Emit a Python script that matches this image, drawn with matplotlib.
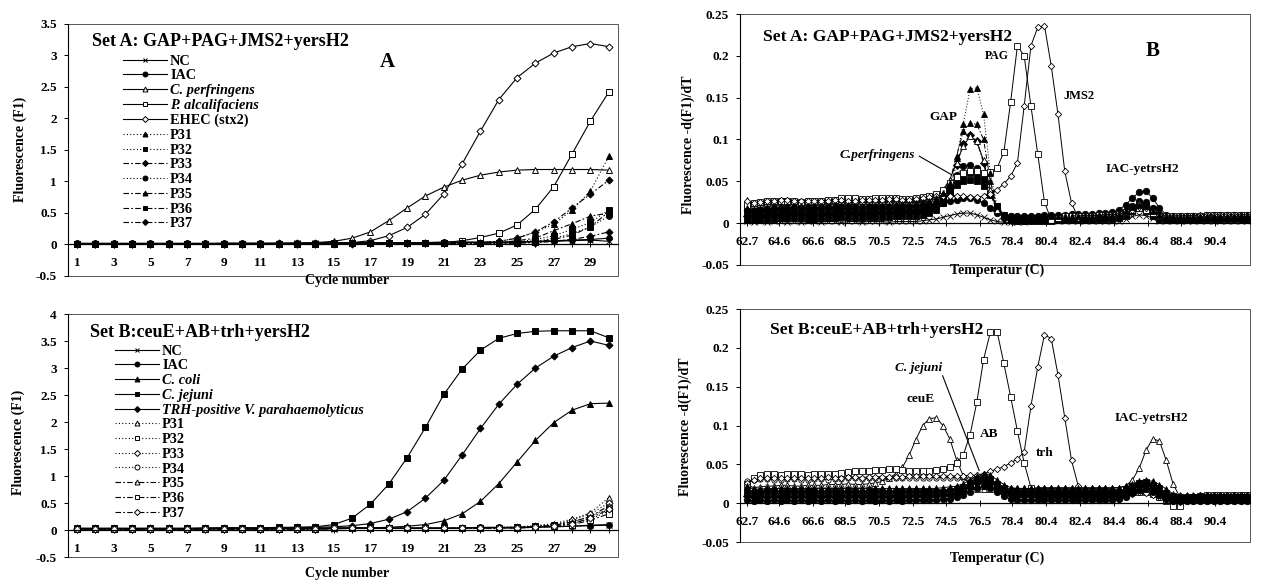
import numpy as np
import matplotlib
matplotlib.use("Agg")
import matplotlib.pyplot as plt
from matplotlib.patches import Rectangle
from matplotlib.ticker import FuncFormatter

plt.rcParams['font.family'] = ['Liberation Serif', 'DejaVu Serif']
plt.rcParams['font.weight'] = 'bold'

# ---------------- amplification data (cycle 1..30) ----------------
cycles = np.arange(1, 31)

nc_a = [0.01, 0.01, 0.01, 0.01, 0.01, 0.01, 0.01, 0.01, 0.01, 0.01,
        0.01, 0.01, 0.02, 0.02, 0.02, 0.02, 0.02, 0.02, 0.02, 0.02,
        0.02, 0.03, 0.03, 0.03, 0.04, 0.04, 0.05, 0.06, 0.07, 0.05]
iac_a = [0.02, 0.02, 0.02, 0.02, 0.02, 0.02, 0.02, 0.02, 0.02, 0.02,
         0.02, 0.02, 0.02, 0.02, 0.03, 0.03, 0.03, 0.03, 0.03, 0.03,
         0.04, 0.04, 0.04, 0.04, 0.04, 0.05, 0.06, 0.07, 0.08, 0.10]
cperf_a = [0.01, 0.01, 0.01, 0.01, 0.01, 0.01, 0.01, 0.01, 0.02, 0.02,
           0.02, 0.02, 0.02, 0.03, 0.05, 0.10, 0.20, 0.38, 0.58, 0.77,
           0.91, 1.02, 1.10, 1.15, 1.18, 1.19, 1.19, 1.19, 1.19, 1.18]
palc_a = [0.01, 0.01, 0.01, 0.01, 0.01, 0.01, 0.01, 0.01, 0.01, 0.01,
          0.01, 0.01, 0.01, 0.01, 0.02, 0.02, 0.02, 0.02, 0.02, 0.02,
          0.03, 0.06, 0.11, 0.18, 0.31, 0.56, 0.92, 1.44, 1.96, 2.42]
ehec_a = [0.01, 0.01, 0.01, 0.01, 0.01, 0.01, 0.01, 0.01, 0.01, 0.01,
          0.01, 0.02, 0.02, 0.02, 0.02, 0.03, 0.06, 0.14, 0.27, 0.48,
          0.80, 1.28, 1.80, 2.30, 2.65, 2.88, 3.04, 3.14, 3.19, 3.14]
p31_a = [0.01, 0.01, 0.01, 0.01, 0.01, 0.01, 0.01, 0.01, 0.01, 0.01,
         0.01, 0.01, 0.01, 0.02, 0.02, 0.02, 0.02, 0.02, 0.02, 0.02,
         0.02, 0.02, 0.03, 0.05, 0.10, 0.20, 0.32, 0.55, 0.85, 1.40]
p32_a = [0.01, 0.01, 0.01, 0.01, 0.01, 0.01, 0.01, 0.01, 0.01, 0.01,
         0.01, 0.01, 0.01, 0.01, 0.02, 0.02, 0.02, 0.02, 0.02, 0.02,
         0.02, 0.02, 0.02, 0.03, 0.04, 0.08, 0.14, 0.24, 0.35, 0.55]
p33_a = [0.01, 0.01, 0.01, 0.01, 0.01, 0.01, 0.01, 0.01, 0.01, 0.01,
         0.01, 0.01, 0.01, 0.01, 0.02, 0.02, 0.02, 0.02, 0.02, 0.02,
         0.02, 0.02, 0.03, 0.05, 0.10, 0.20, 0.36, 0.58, 0.80, 1.02]
p34_a = [0.01, 0.01, 0.01, 0.01, 0.01, 0.01, 0.01, 0.01, 0.01, 0.01,
         0.01, 0.01, 0.01, 0.01, 0.01, 0.02, 0.02, 0.02, 0.02, 0.02,
         0.02, 0.02, 0.02, 0.02, 0.03, 0.05, 0.10, 0.17, 0.28, 0.45]
p35_a = [0.01, 0.01, 0.01, 0.01, 0.01, 0.01, 0.01, 0.01, 0.01, 0.01,
         0.01, 0.01, 0.01, 0.01, 0.02, 0.02, 0.02, 0.02, 0.02, 0.02,
         0.02, 0.02, 0.02, 0.03, 0.06, 0.10, 0.22, 0.33, 0.45, 0.50]
p36_a = [0.01, 0.01, 0.01, 0.01, 0.01, 0.01, 0.01, 0.01, 0.01, 0.01,
         0.01, 0.01, 0.01, 0.01, 0.01, 0.02, 0.02, 0.02, 0.02, 0.02,
         0.02, 0.02, 0.02, 0.02, 0.03, 0.04, 0.08, 0.15, 0.28, 0.52]
p37_a = [0.01, 0.01, 0.01, 0.01, 0.01, 0.01, 0.01, 0.01, 0.01, 0.01,
         0.01, 0.01, 0.01, 0.01, 0.01, 0.01, 0.02, 0.02, 0.02, 0.02,
         0.02, 0.02, 0.02, 0.02, 0.02, 0.03, 0.05, 0.08, 0.13, 0.20]

nc_b = [0.02, 0.02, 0.02, 0.02, 0.02, 0.02, 0.02, 0.02, 0.02, 0.02,
        0.02, 0.02, 0.02, 0.02, 0.02, 0.03, 0.03, 0.03, 0.03, 0.03,
        0.03, 0.03, 0.04, 0.04, 0.04, 0.05, 0.06, 0.07, 0.09, 0.10]
iac_b = [0.03, 0.03, 0.03, 0.03, 0.03, 0.03, 0.03, 0.03, 0.03, 0.03,
         0.03, 0.03, 0.03, 0.04, 0.04, 0.04, 0.04, 0.04, 0.04, 0.04,
         0.04, 0.04, 0.05, 0.05, 0.05, 0.06, 0.06, 0.07, 0.08, 0.09]
ccoli_b = [0.02, 0.02, 0.02, 0.02, 0.02, 0.02, 0.02, 0.02, 0.03, 0.03,
           0.03, 0.03, 0.03, 0.03, 0.03, 0.04, 0.04, 0.05, 0.07, 0.10,
           0.17, 0.30, 0.53, 0.86, 1.26, 1.66, 1.99, 2.22, 2.34, 2.35]
cjej_b = [0.03, 0.03, 0.03, 0.03, 0.03, 0.03, 0.03, 0.04, 0.04, 0.04,
          0.04, 0.05, 0.05, 0.06, 0.10, 0.22, 0.48, 0.85, 1.34, 1.90,
          2.51, 2.98, 3.33, 3.55, 3.64, 3.68, 3.69, 3.69, 3.69, 3.56]
trh_b = [0.03, 0.03, 0.03, 0.03, 0.03, 0.03, 0.03, 0.03, 0.04, 0.04,
         0.04, 0.04, 0.05, 0.05, 0.06, 0.08, 0.12, 0.20, 0.34, 0.59,
         0.92, 1.39, 1.88, 2.33, 2.70, 3.00, 3.22, 3.38, 3.50, 3.42]
p31_b = [0.02, 0.02, 0.02, 0.02, 0.02, 0.02, 0.02, 0.02, 0.02, 0.02,
         0.02, 0.02, 0.02, 0.02, 0.03, 0.03, 0.03, 0.03, 0.03, 0.03,
         0.03, 0.04, 0.04, 0.05, 0.06, 0.08, 0.12, 0.20, 0.32, 0.60]
p32_b = [0.02, 0.02, 0.02, 0.02, 0.02, 0.02, 0.02, 0.02, 0.02, 0.02,
         0.02, 0.02, 0.02, 0.02, 0.03, 0.03, 0.03, 0.03, 0.03, 0.03,
         0.03, 0.03, 0.04, 0.04, 0.05, 0.07, 0.10, 0.15, 0.25, 0.40]
p33_b = [0.02, 0.02, 0.02, 0.02, 0.02, 0.02, 0.02, 0.02, 0.02, 0.02,
         0.02, 0.02, 0.02, 0.02, 0.03, 0.03, 0.03, 0.03, 0.03, 0.03,
         0.03, 0.03, 0.04, 0.04, 0.05, 0.07, 0.10, 0.18, 0.30, 0.50]
p34_b = [0.02, 0.02, 0.02, 0.02, 0.02, 0.02, 0.02, 0.02, 0.02, 0.02,
         0.02, 0.02, 0.02, 0.02, 0.03, 0.03, 0.03, 0.03, 0.03, 0.03,
         0.03, 0.03, 0.03, 0.04, 0.04, 0.05, 0.07, 0.12, 0.20, 0.35]
p35_b = [0.02, 0.02, 0.02, 0.02, 0.02, 0.02, 0.02, 0.02, 0.02, 0.02,
         0.02, 0.02, 0.02, 0.02, 0.03, 0.03, 0.03, 0.03, 0.03, 0.03,
         0.03, 0.03, 0.04, 0.04, 0.05, 0.06, 0.09, 0.15, 0.25, 0.45]
p36_b = [0.02, 0.02, 0.02, 0.02, 0.02, 0.02, 0.02, 0.02, 0.02, 0.02,
         0.02, 0.02, 0.02, 0.02, 0.03, 0.03, 0.03, 0.03, 0.03, 0.03,
         0.03, 0.03, 0.03, 0.04, 0.04, 0.05, 0.07, 0.10, 0.18, 0.30]
p37_b = [0.02, 0.02, 0.02, 0.02, 0.02, 0.02, 0.02, 0.02, 0.02, 0.02,
         0.02, 0.02, 0.02, 0.02, 0.03, 0.03, 0.03, 0.03, 0.03, 0.03,
         0.03, 0.03, 0.04, 0.04, 0.04, 0.06, 0.08, 0.12, 0.22, 0.38]

# ---------------- melting curve data ----------------
temps = np.round(62.7 + 0.4 * np.arange(75), 1)
temp_ticks = [62.7, 64.6, 66.6, 68.5, 70.5, 72.5, 74.5, 76.5, 78.4, 80.4,
              82.4, 84.4, 86.4, 88.4, 90.4]

# Set A
jms2_m = [0.026, 0.024, 0.025, 0.026, 0.027, 0.028, 0.028, 0.027, 0.027, 0.026,
          0.026, 0.027, 0.027, 0.028, 0.028, 0.027, 0.027, 0.028, 0.028, 0.028,
          0.028, 0.029, 0.029, 0.028, 0.028, 0.029, 0.030, 0.031, 0.032, 0.033,
          0.033, 0.033, 0.032, 0.031, 0.031, 0.032, 0.035, 0.040, 0.047, 0.056,
          0.072, 0.140, 0.212, 0.234, 0.236, 0.188, 0.130, 0.062, 0.024, 0.006,
          0.008, 0.009, 0.009, 0.010, 0.010, 0.011, 0.013, 0.016, 0.019, 0.018,
          0.014, 0.010, 0.008, 0.008, 0.009, 0.009, 0.009, 0.010, 0.010, 0.010,
          0.010, 0.010, 0.010, 0.010, 0.010]
pag_m = [0.022, 0.024, 0.025, 0.026, 0.027, 0.027, 0.026, 0.026, 0.025, 0.026,
         0.027, 0.027, 0.028, 0.028, 0.030, 0.030, 0.030, 0.029, 0.029, 0.030,
         0.030, 0.030, 0.030, 0.029, 0.029, 0.030, 0.031, 0.033, 0.035, 0.040,
         0.048, 0.055, 0.060, 0.062, 0.062, 0.060, 0.061, 0.066, 0.085, 0.145,
         0.212, 0.200, 0.140, 0.083, 0.025, 0.004, 0.006, 0.008, 0.009, 0.009,
         0.009, 0.009, 0.010, 0.010, 0.010, 0.011, 0.013, 0.016, 0.018, 0.016,
         0.012, 0.009, 0.008, 0.008, 0.008, 0.009, 0.009, 0.009, 0.010, 0.010,
         0.010, 0.010, 0.010, 0.010, 0.010]
cperf_m = [0.028, 0.022, 0.023, 0.024, 0.025, 0.025, 0.026, 0.026, 0.025, 0.025,
           0.025, 0.026, 0.026, 0.027, 0.027, 0.027, 0.027, 0.026, 0.026, 0.027,
           0.027, 0.027, 0.027, 0.026, 0.026, 0.027, 0.028, 0.030, 0.033, 0.040,
           0.052, 0.072, 0.092, 0.104, 0.098, 0.075, 0.040, 0.016, 0.010, 0.008,
           0.007, 0.007, 0.008, 0.008, 0.008, 0.009, 0.009, 0.009, 0.009, 0.010,
           0.010, 0.010, 0.010, 0.011, 0.011, 0.012, 0.015, 0.020, 0.024, 0.022,
           0.016, 0.011, 0.009, 0.008, 0.008, 0.009, 0.009, 0.009, 0.010, 0.010,
           0.010, 0.010, 0.010, 0.010, 0.010]
p31_m = [0.018, 0.017, 0.018, 0.019, 0.020, 0.020, 0.021, 0.021, 0.020, 0.020,
         0.020, 0.021, 0.021, 0.022, 0.022, 0.022, 0.021, 0.021, 0.022, 0.022,
         0.022, 0.022, 0.023, 0.023, 0.023, 0.024, 0.025, 0.027, 0.030, 0.036,
         0.048, 0.078, 0.119, 0.160, 0.162, 0.130, 0.060, 0.020, 0.010, 0.008,
         0.007, 0.007, 0.007, 0.008, 0.008, 0.008, 0.008, 0.009, 0.009, 0.009,
         0.009, 0.009, 0.010, 0.010, 0.010, 0.011, 0.014, 0.019, 0.022, 0.020,
         0.015, 0.010, 0.008, 0.008, 0.008, 0.008, 0.009, 0.009, 0.009, 0.009,
         0.009, 0.009, 0.009, 0.010, 0.010]
p34_m = [0.021, 0.022, 0.023, 0.023, 0.024, 0.024, 0.024, 0.025, 0.024, 0.024,
         0.024, 0.024, 0.025, 0.025, 0.025, 0.024, 0.024, 0.025, 0.025, 0.025,
         0.025, 0.025, 0.025, 0.025, 0.026, 0.026, 0.027, 0.029, 0.032, 0.038,
         0.046, 0.058, 0.068, 0.070, 0.066, 0.055, 0.036, 0.018, 0.010, 0.008,
         0.007, 0.007, 0.007, 0.007, 0.008, 0.008, 0.008, 0.008, 0.008, 0.009,
         0.009, 0.009, 0.009, 0.010, 0.010, 0.011, 0.014, 0.020, 0.026, 0.025,
         0.018, 0.011, 0.008, 0.007, 0.007, 0.008, 0.008, 0.008, 0.008, 0.008,
         0.008, 0.008, 0.008, 0.008, 0.008]
p35_m = [0.012, 0.013, 0.013, 0.014, 0.015, 0.015, 0.015, 0.016, 0.016, 0.015,
         0.015, 0.016, 0.016, 0.016, 0.017, 0.017, 0.016, 0.016, 0.017, 0.017,
         0.017, 0.017, 0.018, 0.018, 0.018, 0.019, 0.020, 0.022, 0.026, 0.034,
         0.050, 0.080, 0.110, 0.120, 0.118, 0.100, 0.050, 0.018, 0.008, 0.006,
         0.005, 0.005, 0.006, 0.006, 0.006, 0.006, 0.007, 0.007, 0.007, 0.007,
         0.007, 0.007, 0.008, 0.008, 0.008, 0.009, 0.012, 0.018, 0.022, 0.019,
         0.013, 0.008, 0.006, 0.006, 0.006, 0.006, 0.007, 0.007, 0.007, 0.007,
         0.007, 0.007, 0.007, 0.007, 0.007]
p36_m = [0.013, 0.012, 0.013, 0.013, 0.013, 0.012, 0.013, 0.013, 0.013, 0.012,
         0.013, 0.013, 0.013, 0.013, 0.014, 0.014, 0.013, 0.013, 0.014, 0.014,
         0.014, 0.014, 0.014, 0.014, 0.015, 0.015, 0.016, 0.018, 0.022, 0.030,
         0.040, 0.052, 0.058, 0.060, 0.058, 0.050, 0.036, 0.020, 0.010, 0.006,
         0.005, 0.005, 0.005, 0.005, 0.005, 0.005, 0.005, 0.006, 0.006, 0.006,
         0.006, 0.006, 0.007, 0.007, 0.007, 0.008, 0.011, 0.016, 0.021, 0.020,
         0.014, 0.008, 0.006, 0.005, 0.005, 0.005, 0.005, 0.006, 0.006, 0.006,
         0.006, 0.006, 0.006, 0.006, 0.006]
p33_m = [0.008, 0.008, 0.009, 0.009, 0.010, 0.010, 0.010, 0.011, 0.011, 0.010,
         0.010, 0.011, 0.011, 0.011, 0.012, 0.012, 0.011, 0.011, 0.012, 0.012,
         0.012, 0.012, 0.013, 0.013, 0.013, 0.014, 0.015, 0.017, 0.020, 0.028,
         0.042, 0.070, 0.095, 0.105, 0.098, 0.072, 0.035, 0.014, 0.006, 0.004,
         0.004, 0.004, 0.004, 0.005, 0.005, 0.005, 0.005, 0.005, 0.006, 0.006,
         0.006, 0.006, 0.006, 0.007, 0.007, 0.008, 0.011, 0.016, 0.020, 0.017,
         0.011, 0.006, 0.005, 0.005, 0.005, 0.005, 0.005, 0.006, 0.006, 0.006,
         0.006, 0.006, 0.006, 0.006, 0.006]
p32_m = [0.004, 0.004, 0.005, 0.005, 0.005, 0.006, 0.006, 0.006, 0.006, 0.005,
         0.005, 0.006, 0.006, 0.006, 0.007, 0.007, 0.006, 0.006, 0.007, 0.007,
         0.007, 0.007, 0.008, 0.008, 0.008, 0.009, 0.010, 0.012, 0.016, 0.024,
         0.036, 0.046, 0.050, 0.052, 0.050, 0.045, 0.034, 0.020, 0.009, 0.004,
         0.003, 0.003, 0.003, 0.003, 0.003, 0.003, 0.004, 0.004, 0.004, 0.004,
         0.004, 0.004, 0.005, 0.005, 0.005, 0.006, 0.009, 0.014, 0.018, 0.015,
         0.009, 0.005, 0.004, 0.004, 0.004, 0.004, 0.004, 0.004, 0.005, 0.005,
         0.005, 0.005, 0.005, 0.005, 0.005]
iac_m = [0.016, 0.016, 0.017, 0.017, 0.018, 0.018, 0.018, 0.019, 0.019, 0.018,
         0.018, 0.019, 0.019, 0.019, 0.020, 0.020, 0.019, 0.019, 0.020, 0.020,
         0.020, 0.020, 0.020, 0.021, 0.021, 0.021, 0.022, 0.022, 0.023, 0.024,
         0.026, 0.028, 0.030, 0.030, 0.028, 0.024, 0.018, 0.012, 0.010, 0.009,
         0.009, 0.009, 0.009, 0.009, 0.010, 0.010, 0.010, 0.010, 0.011, 0.011,
         0.011, 0.011, 0.012, 0.012, 0.013, 0.016, 0.022, 0.030, 0.037, 0.038,
         0.030, 0.018, 0.010, 0.008, 0.008, 0.009, 0.009, 0.009, 0.010, 0.010,
         0.010, 0.010, 0.010, 0.010, 0.010]
nc_m = [0.002, 0.001, 0.002, 0.001, 0.002, 0.002, 0.001, 0.002, 0.001, 0.002,
        0.002, 0.001, 0.002, 0.002, 0.001, 0.002, 0.002, 0.001, 0.002, 0.002,
        0.002, 0.001, 0.002, 0.002, 0.002, 0.002, 0.003, 0.004, 0.005, 0.007,
        0.009, 0.011, 0.012, 0.012, 0.010, 0.007, 0.004, 0.002, 0.001, 0.001,
        0.001, 0.001, 0.002, 0.002, 0.002, 0.002, 0.002, 0.002, 0.002, 0.002,
        0.002, 0.002, 0.002, 0.003, 0.003, 0.003, 0.005, 0.008, 0.010, 0.009,
        0.006, 0.003, 0.002, 0.002, 0.002, 0.003, 0.003, 0.003, 0.003, 0.003,
        0.003, 0.003, 0.003, 0.003, 0.003]

# Set B
ceue_m = [0.024, 0.020, 0.021, 0.022, 0.022, 0.023, 0.023, 0.022, 0.022, 0.023,
          0.023, 0.023, 0.024, 0.024, 0.024, 0.025, 0.024, 0.024, 0.025, 0.026,
          0.028, 0.032, 0.038, 0.046, 0.062, 0.082, 0.100, 0.109, 0.110, 0.100,
          0.083, 0.056, 0.035, 0.022, 0.018, 0.018, 0.018, 0.019, 0.019, 0.019,
          0.019, 0.019, 0.019, 0.020, 0.020, 0.020, 0.020, 0.020, 0.020, 0.020,
          0.020, 0.020, 0.020, 0.020, 0.020, 0.020, 0.022, 0.030, 0.045, 0.068,
          0.083, 0.080, 0.055, 0.025, 0.008, 0.008, 0.009, 0.009, 0.010, 0.010,
          0.010, 0.010, 0.010, 0.010, 0.010]
ab_m = [0.025, 0.032, 0.036, 0.038, 0.037, 0.036, 0.037, 0.038, 0.037, 0.036,
        0.037, 0.038, 0.037, 0.038, 0.039, 0.040, 0.041, 0.042, 0.042, 0.043,
        0.043, 0.044, 0.044, 0.043, 0.042, 0.042, 0.042, 0.042, 0.043, 0.044,
        0.047, 0.052, 0.062, 0.088, 0.130, 0.185, 0.220, 0.221, 0.180, 0.137,
        0.093, 0.052, 0.020, 0.010, 0.010, 0.010, 0.010, 0.010, 0.010, 0.010,
        0.010, 0.010, 0.010, 0.010, 0.010, 0.011, 0.012, 0.014, 0.015, 0.014,
        0.012, 0.008, 0.003, -0.003, -0.004, 0.006, 0.008, 0.009, 0.010, 0.010,
        0.010, 0.010, 0.010, 0.010, 0.010]
trh_m = [0.026, 0.030, 0.032, 0.033, 0.033, 0.032, 0.033, 0.033, 0.032, 0.033,
         0.033, 0.033, 0.034, 0.033, 0.033, 0.034, 0.034, 0.033, 0.034, 0.034,
         0.034, 0.034, 0.034, 0.034, 0.035, 0.035, 0.035, 0.035, 0.035, 0.035,
         0.035, 0.035, 0.035, 0.036, 0.036, 0.038, 0.041, 0.044, 0.047, 0.052,
         0.057, 0.066, 0.125, 0.175, 0.217, 0.212, 0.165, 0.110, 0.055, 0.022,
         0.010, 0.008, 0.008, 0.008, 0.009, 0.009, 0.010, 0.012, 0.014, 0.013,
         0.011, 0.008, 0.006, 0.003, 0.002, 0.006, 0.008, 0.009, 0.010, 0.010,
         0.010, 0.010, 0.010, 0.010, 0.010]
circ_m = [0.028, 0.030, 0.031, 0.031, 0.030, 0.030, 0.031, 0.031, 0.030, 0.030,
          0.031, 0.031, 0.030, 0.031, 0.031, 0.032, 0.032, 0.031, 0.032, 0.032,
          0.032, 0.032, 0.032, 0.032, 0.032, 0.033, 0.033, 0.033, 0.033, 0.033,
          0.033, 0.033, 0.033, 0.032, 0.030, 0.026, 0.020, 0.016, 0.014, 0.013,
          0.013, 0.013, 0.013, 0.013, 0.013, 0.013, 0.013, 0.013, 0.013, 0.013,
          0.013, 0.013, 0.013, 0.013, 0.013, 0.014, 0.016, 0.019, 0.021, 0.020,
          0.017, 0.013, 0.010, 0.009, 0.009, 0.009, 0.009, 0.010, 0.010, 0.010,
          0.010, 0.010, 0.010, 0.010, 0.010]
ftri_m = [0.022, 0.018, 0.018, 0.019, 0.019, 0.019, 0.019, 0.019, 0.019, 0.019,
          0.019, 0.019, 0.019, 0.019, 0.019, 0.019, 0.019, 0.019, 0.019, 0.019,
          0.019, 0.019, 0.019, 0.019, 0.019, 0.019, 0.019, 0.019, 0.019, 0.020,
          0.021, 0.022, 0.025, 0.030, 0.035, 0.038, 0.036, 0.030, 0.024, 0.020,
          0.019, 0.019, 0.019, 0.019, 0.019, 0.019, 0.019, 0.019, 0.019, 0.019,
          0.019, 0.019, 0.019, 0.019, 0.019, 0.020, 0.022, 0.025, 0.028, 0.030,
          0.028, 0.024, 0.018, 0.012, 0.010, 0.010, 0.010, 0.010, 0.010, 0.010,
          0.010, 0.010, 0.010, 0.010, 0.010]
fsq_m = [0.014, 0.013, 0.013, 0.014, 0.014, 0.013, 0.014, 0.014, 0.013, 0.014,
         0.014, 0.013, 0.014, 0.014, 0.013, 0.014, 0.014, 0.013, 0.014, 0.014,
         0.014, 0.013, 0.014, 0.014, 0.014, 0.014, 0.014, 0.014, 0.014, 0.015,
         0.016, 0.018, 0.021, 0.026, 0.031, 0.033, 0.031, 0.025, 0.019, 0.015,
         0.014, 0.014, 0.014, 0.014, 0.014, 0.014, 0.014, 0.014, 0.014, 0.014,
         0.014, 0.014, 0.014, 0.014, 0.014, 0.015, 0.018, 0.022, 0.026, 0.027,
         0.024, 0.019, 0.013, 0.009, 0.008, 0.008, 0.008, 0.008, 0.008, 0.008,
         0.008, 0.008, 0.008, 0.008, 0.008]
fdia_m = [0.009, 0.008, 0.009, 0.008, 0.009, 0.008, 0.009, 0.008, 0.009, 0.008,
          0.009, 0.008, 0.009, 0.008, 0.009, 0.008, 0.009, 0.008, 0.009, 0.008,
          0.009, 0.008, 0.009, 0.008, 0.009, 0.009, 0.009, 0.009, 0.009, 0.010,
          0.011, 0.013, 0.016, 0.021, 0.026, 0.028, 0.026, 0.020, 0.014, 0.010,
          0.009, 0.009, 0.009, 0.009, 0.009, 0.009, 0.009, 0.009, 0.009, 0.009,
          0.009, 0.009, 0.009, 0.009, 0.009, 0.010, 0.013, 0.018, 0.022, 0.023,
          0.020, 0.015, 0.009, 0.006, 0.006, 0.006, 0.006, 0.006, 0.006, 0.006,
          0.006, 0.006, 0.006, 0.006, 0.006]
fcir_m = [0.004, 0.003, 0.004, 0.003, 0.004, 0.003, 0.004, 0.003, 0.004, 0.003,
          0.004, 0.003, 0.004, 0.003, 0.004, 0.003, 0.004, 0.003, 0.004, 0.003,
          0.004, 0.003, 0.004, 0.003, 0.004, 0.004, 0.004, 0.004, 0.004, 0.005,
          0.006, 0.008, 0.011, 0.015, 0.020, 0.022, 0.020, 0.015, 0.009, 0.005,
          0.004, 0.004, 0.004, 0.004, 0.004, 0.004, 0.004, 0.004, 0.004, 0.004,
          0.004, 0.004, 0.004, 0.004, 0.004, 0.005, 0.008, 0.013, 0.017, 0.018,
          0.015, 0.010, 0.005, 0.003, 0.003, 0.003, 0.003, 0.003, 0.003, 0.003,
          0.003, 0.003, 0.003, 0.003, 0.003]

# ---------------- styles ----------------
SOLID = '-'
DOT = (0, (1, 2))
DASHDOT = (0, (5, 2, 1.5, 2))
ITALIC = {'C. perfringens', 'P. alcalifaciens', 'C. coli', 'C. jejuni',
          'TRH-positive V. parahaemolyticus'}

set_a = [('NC', nc_a, SOLID, 'x', True), ('IAC', iac_a, SOLID, 'o', True),
         ('C. perfringens', cperf_a, SOLID, '^', False),
         ('P. alcalifaciens', palc_a, SOLID, 's', False),
         ('EHEC (stx2)', ehec_a, SOLID, 'D', False),
         ('P31', p31_a, DOT, '^', True), ('P32', p32_a, DOT, 's', True),
         ('P33', p33_a, DASHDOT, 'D', True), ('P34', p34_a, DOT, 'o', True),
         ('P35', p35_a, DASHDOT, '^', True), ('P36', p36_a, DASHDOT, 's', True),
         ('P37', p37_a, DASHDOT, 'D', True)]
set_b = [('NC', nc_b, SOLID, 'x', True), ('IAC', iac_b, SOLID, 'o', True),
         ('C. coli', ccoli_b, SOLID, '^', True),
         ('C. jejuni', cjej_b, SOLID, 's', True),
         ('TRH-positive V. parahaemolyticus', trh_b, SOLID, 'D', True),
         ('P31', p31_b, DOT, '^', False), ('P32', p32_b, DOT, 's', False),
         ('P33', p33_b, DOT, 'D', False), ('P34', p34_b, DOT, 'o', False),
         ('P35', p35_b, DASHDOT, '^', False), ('P36', p36_b, DASHDOT, 's', False),
         ('P37', p37_b, DASHDOT, 'D', False)]

melt_a = [(nc_m, SOLID, 'x', True), (p32_m, DOT, 's', True),
          (p33_m, DASHDOT, 'D', True), (p36_m, DASHDOT, 's', True),
          (iac_m, SOLID, 'o', True), (p35_m, DASHDOT, '^', True),
          (p34_m, DOT, 'o', True), (cperf_m, SOLID, '^', False),
          (pag_m, SOLID, 's', False), (jms2_m, SOLID, 'D', False),
          (p31_m, DOT, '^', True)]
melt_b = [(circ_m, SOLID, 'o', False), (ceue_m, SOLID, '^', False),
          (ab_m, SOLID, 's', False), (trh_m, SOLID, 'D', False),
          (fcir_m, SOLID, 'o', True), (fdia_m, SOLID, 'D', True),
          (fsq_m, SOLID, 's', True), (ftri_m, SOLID, '^', True)]


def mark_size(mk, big, filled=False):
    if big:
        base = 4.2
    else:
        base = 4.6 if filled else 3.8
    return base * 0.85 if mk == 'D' else base


def setup(ax, xlim, ylim, yticks, xticks, xlabels):
    ax.set_xlim(*xlim)
    ax.set_ylim(*ylim)
    for s in ['top', 'right']:
        ax.spines[s].set_visible(False)
    ax.spines['bottom'].set_position(('data', 0))
    ax.spines['bottom'].set_linewidth(0.9)
    ax.spines['left'].set_linewidth(0.8)
    ax.add_patch(Rectangle((0, 0), 1, 1, transform=ax.transAxes, fill=False,
                           lw=0.7, ec='#555555', clip_on=False, zorder=0.5))
    ax.set_yticks(yticks)
    ax.yaxis.set_major_formatter(FuncFormatter(lambda v, p: f'{round(v, 3):g}'))
    ax.set_xticks(xticks)
    ax.set_xticklabels(xlabels)
    ax.tick_params(axis='x', direction='inout', length=4, width=0.7, pad=7,
                   labelsize=9.5)
    ax.tick_params(axis='y', direction='out', length=3, width=0.7, pad=5,
                   labelsize=9.5)


def amp_panel(ax, series, ymax, title, tx, ty, leg_x, leg_y, letter=None):
    for lab, vals, ls, mk, filled in series:
        ax.plot(cycles, vals, linestyle=ls, color='black', lw=0.8, marker=mk,
                ms=mark_size(mk, True), mfc='black' if filled else 'white',
                mec='black', mew=0.7, label=lab, clip_on=False)
    setup(ax, (0.5, 30.5), (-0.5, ymax), np.arange(-0.5, ymax + 0.01, 0.5),
          cycles, [str(c) if c % 2 else '' for c in cycles])
    ax.text(tx, ty, title, transform=ax.transAxes, fontsize=13,
            fontweight='bold', ha='left', va='center')
    leg = ax.legend(loc='upper left', bbox_to_anchor=(leg_x, leg_y),
                    frameon=False, fontsize=10.3, handlelength=3.1,
                    handletextpad=0.2, labelspacing=0.12, borderpad=0,
                    borderaxespad=0, numpoints=1, markerscale=0.85)
    for t in leg.get_texts():
        if t.get_text() in ITALIC:
            t.set_style('italic')
    if letter:
        ax.text(0.58, 0.849, letter, transform=ax.transAxes, fontsize=15,
                fontweight='bold', ha='center', va='center')


def melt_panel(ax, series, title, tx, ty):
    for vals, ls, mk, filled in series:
        ax.plot(temps, vals, linestyle=ls, color='black', lw=0.7, marker=mk,
                ms=mark_size(mk, False, filled),
                mfc='black' if filled else 'white', mec='black', mew=0.6)
    setup(ax, (62.3, 92.45), (-0.05, 0.25), np.arange(-0.05, 0.2501, 0.05),
          temp_ticks, [f'{t:.1f}' for t in temp_ticks])
    ax.text(tx, ty, title, transform=ax.transAxes, fontsize=12.6,
            fontweight='bold', ha='left', va='center')


fig = plt.figure(figsize=(12.63, 5.81), dpi=100)
ax1 = fig.add_axes([0.0538, 0.525, 0.4355, 0.4337])
ax2 = fig.add_axes([0.5859, 0.5439, 0.4038, 0.432])
ax3 = fig.add_axes([0.0538, 0.0413, 0.4355, 0.4182])
ax4 = fig.add_axes([0.5859, 0.0671, 0.4038, 0.401])

# A: amplification, set A
amp_panel(ax1, set_a, 3.5, 'Set A: GAP+PAG+JMS2+yersH2', 0.044, 0.929,
          0.1, 0.878, letter='A')
ax1.text(-0.087, 0.504, 'Fluorescence (F1)', transform=ax1.transAxes,
         rotation=90, ha='center', va='center', fontsize=10)
ax1.text(0.507, -0.016, 'Cycle number', transform=ax1.transAxes,
         ha='center', va='center', fontsize=10)

# set B amplification
amp_panel(ax3, set_b, 4.0, 'Set B:ceuE+AB+trh+yersH2', 0.04, 0.922,
          0.0855, 0.874)
ax3.text(-0.091, 0.473, 'Fluorescence (F1)', transform=ax3.transAxes,
         rotation=90, ha='center', va='center', fontsize=10)
ax3.text(0.507, -0.066, 'Cycle number', transform=ax3.transAxes,
         ha='center', va='center', fontsize=10)

# B: melting curves, set A
melt_panel(ax2, melt_a, 'Set A: GAP+PAG+JMS2+yersH2', 0.045, 0.908)
ax2.text(-0.102, 0.478, 'Fluorescence -d(F1)/dT', transform=ax2.transAxes,
         rotation=90, ha='center', va='center', fontsize=10)
ax2.text(0.504, -0.02, 'Temperatur (C)', transform=ax2.transAxes,
         ha='center', va='center', fontsize=10)
ax2.text(70.4, 0.081, 'C.perfringens', style='italic', ha='center',
         va='center', fontsize=9.5)
ax2.plot([72.9, 74.8], [0.08, 0.058], color='black', lw=0.8)
ax2.text(74.3, 0.127, 'GAP', ha='center', va='center', fontsize=9.5)
ax2.text(77.5, 0.2, 'PAG', ha='center', va='center', fontsize=8.5)
ax2.text(82.35, 0.152, 'JMS2', ha='center', va='center', fontsize=9)
ax2.text(86.1, 0.065, 'IAC-yetrsH2', ha='center', va='center', fontsize=9.5)
ax2.text(86.7, 0.206, 'B', ha='center', va='center', fontsize=15)

# set B melting curves
melt_panel(ax4, melt_b, 'Set B:ceuE+AB+trh+yersH2', 0.059, 0.91)
ax4.text(-0.108, 0.494, 'Fluorescence -d(F1)/dT', transform=ax4.transAxes,
         rotation=90, ha='center', va='center', fontsize=10)
ax4.text(0.504, -0.069, 'Temperatur (C)', transform=ax4.transAxes,
         ha='center', va='center', fontsize=10)
ax4.text(72.86, 0.174, 'C. jejuni', style='italic', ha='center',
         va='center', fontsize=9.5)
ax4.plot([74.28, 76.44], [0.164, 0.042], color='black', lw=0.8)
ax4.text(72.98, 0.134, 'ceuE', ha='center', va='center', fontsize=9.5)
ax4.text(77.05, 0.089, 'AB', ha='center', va='center', fontsize=9.5)
ax4.text(80.3, 0.065, 'trh', ha='center', va='center', fontsize=9.5)
ax4.text(86.6, 0.11, 'IAC-yetrsH2', ha='center', va='center', fontsize=9.5)

fig.savefig('out.png', dpi=100)
